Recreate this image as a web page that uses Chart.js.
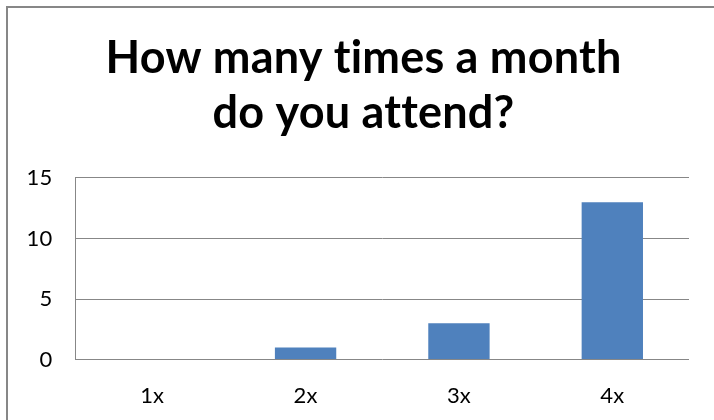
<!DOCTYPE html>
<html>
<head>
<meta charset="utf-8">
<script src="https://cdn.jsdelivr.net/npm/chart.js@4/dist/chart.umd.min.js"></script>
<style>
  html, body { margin: 0; padding: 0; background: #fff; overflow: hidden; }
  .frame {
    position: absolute; left: 6px; top: 6px; width: 740px; height: 440px;
    border: 2px solid #878787;
  }
  .canvas-container { position: absolute; left: 0; top: 0; width: 714px; height: 420px; }
</style>
</head>
<body>
<div class="frame"></div>
<div class="canvas-container">
  <canvas id="chart" width="714" height="420"></canvas>
</div>
<script>
const categories = ['1x', '2x', '3x', '4x'];
const attendance = [0, 1, 3, 13];
const yTicks = [0, 5, 10, 15];
const titleLines = ['How many times a month', 'do you attend?'];

// a tiny letter spacing switches off the "ti" ligatures of Lato,
// and the title sits a bit right of the canvas centre in the original
const tweaks = {
  id: 'tweaks',
  beforeInit: (chart) => { chart.ctx.letterSpacing = '0.2px'; },
  beforeDraw: (chart) => { chart.ctx.letterSpacing = '0.2px'; },
  afterLayout: (chart) => {
    if (chart.titleBlock) chart.titleBlock.left += 14;
  },
};

const ctx = document.getElementById('chart').getContext('2d');
new Chart(ctx, {
  type: 'bar',
  data: {
    labels: categories,
    datasets: [
      {
        data: attendance,
        backgroundColor: '#4F81BD',
        borderWidth: 0,
        categoryPercentage: 1,
        barPercentage: 0.4,
      },
    ],
  },
  plugins: [tweaks],
  options: {
    responsive: false,
    animation: false,
    layout: { padding: { left: 24, right: 25, bottom: 8 } },
    plugins: {
      legend: { display: false },
      tooltip: { enabled: false },
      title: {
        display: true,
        text: titleLines,
        color: '#000',
        font: { family: 'Lato', size: 45, weight: 'bold', lineHeight: 1.244 },
        padding: { top: 30, bottom: 36 },
      },
    },
    scales: {
      x: {
        grid: { display: false, drawTicks: true, tickLength: 20, tickColor: 'transparent' },
        border: { display: false },
        ticks: { color: '#000', padding: 3, font: { family: 'Lato', size: 22 } },
      },
      y: {
        min: yTicks[0],
        max: yTicks[yTicks.length - 1],
        afterBuildTicks: (axis) => { axis.ticks = yTicks.map((v) => ({ value: v })); },
        grid: { color: '#878787', drawTicks: true, tickLength: 20, tickColor: 'transparent' },
        border: { display: true, color: '#878787' },
        ticks: { color: '#000', padding: 3, font: { family: 'Lato', size: 22 } },
      },
    },
  },
});
</script>
</body>
</html>
